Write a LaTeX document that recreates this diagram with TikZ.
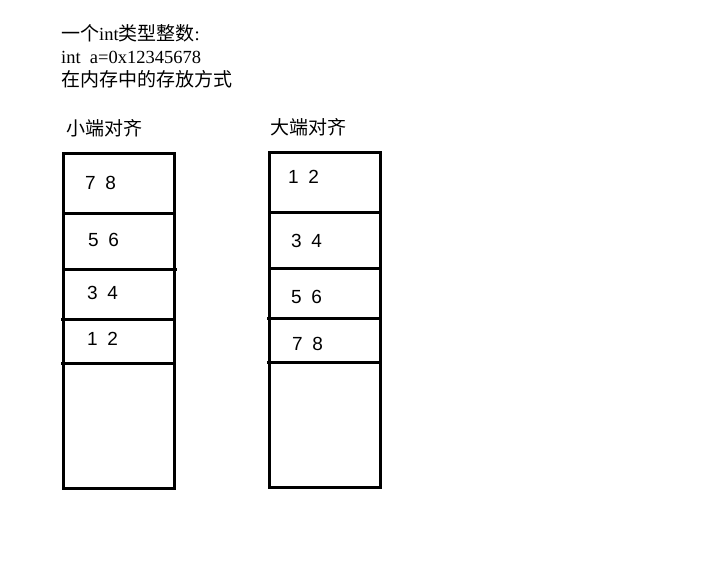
\documentclass[tikz,border=0pt]{standalone}
\usepackage{fontspec}
\setmainfont{Liberation Serif}
\newfontfamily\cjk{Noto Sans CJK SC}
\newfontfamily\digitfont{Liberation Sans}
\begin{document}
\begin{tikzpicture}[x=1pt,y=-1pt,
  txt/.style={inner sep=0pt,anchor=base west},
  cjktxt/.style={txt,font=\cjk\fontsize{19}{20}\selectfont},
  numtxt/.style={txt,font=\digitfont\fontsize{19}{20}\selectfont},
  membox/.style={draw,line width=3pt},
  divider/.style={line width=3pt}]
\useasboundingbox[fill=white] (0,0) rectangle (704,574);
% header
\node[txt,font=\fontsize{18.5}{20}\selectfont] (t1) at (61,40) {{\cjk\fontsize{19}{20}\selectfont 一个}int{\cjk\fontsize{19}{20}\selectfont 类型整数}:};
\node[txt,font=\fontsize{18.5}{20}\selectfont] (t2) at (61,63) {int\ \ a=0x12345678};
\node[cjktxt] (t3) at (61,86) {在内存中的存放方式};
\node[cjktxt] (lt) at (66,135) {小端对齐};
\node[cjktxt] (bt) at (270,134) {大端对齐};
% little endian
\draw[membox] (63,153) rectangle (174,488);
\draw[divider] (63,213) -- (174,213);
\draw[divider] (64,269) -- (177,269);
\draw[divider] (61,319) -- (174,319);
\draw[divider] (61,363) -- (174,363);
\node[numtxt] (l1) at (85,189) {7\hspace{0.5em}8};
\node[numtxt] (l2) at (88,246) {5\hspace{0.5em}6};
\node[numtxt] (l3) at (87,299) {3\hspace{0.5em}4};
\node[numtxt] (l4) at (87,345) {1\hspace{0.5em}2};
% big endian
\draw[membox] (269,152) rectangle (380,487);
\draw[divider] (269,212) -- (380,212);
\draw[divider] (270,268) -- (382,268);
\draw[divider] (267,318) -- (380,318);
\draw[divider] (267,362) -- (380,362);
\node[numtxt] (b1) at (288,183) {1\hspace{0.5em}2};
\node[numtxt] (b2) at (291,247) {3\hspace{0.5em}4};
\node[numtxt] (b3) at (291,303) {5\hspace{0.5em}6};
\node[numtxt] (b4) at (292,350) {7\hspace{0.5em}8};
\end{tikzpicture}
\end{document}
